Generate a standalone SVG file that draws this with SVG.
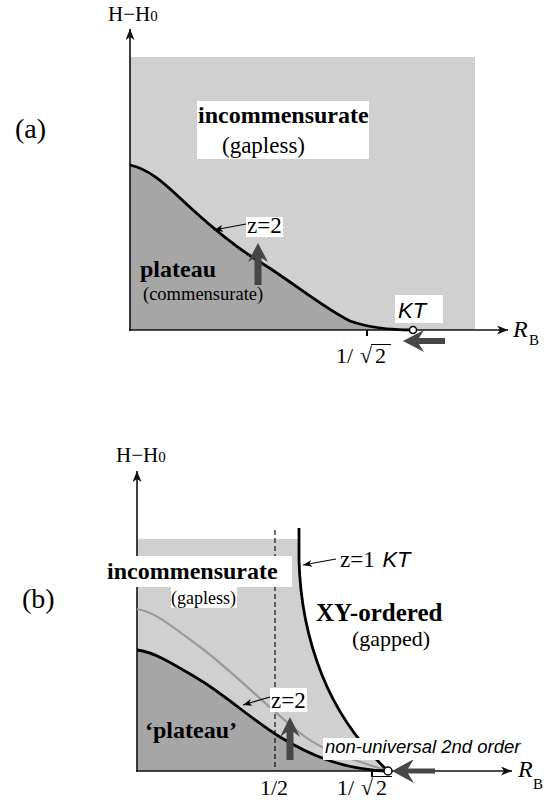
<svg xmlns="http://www.w3.org/2000/svg" width="554" height="806" viewBox="0 0 554 806">
<style>
.serif{font-family:"Liberation Serif","Times New Roman",serif;fill:#000}
.bold{font-weight:bold}
.sans-i{font-family:"Liberation Sans",Arial,sans-serif;font-style:italic;fill:#000}
.light{fill:#d0d0d0}
.dark{fill:#a6a6a6}
.box{fill:#fff}
.axis{stroke:#111;stroke-width:1.6;fill:none}
.curve{stroke:#000;stroke-width:2.8;fill:none}
.thick{fill:#474747}
.lead{stroke:#000;stroke-width:1.2;fill:none}
</style>
<defs>
<marker id="ah" markerUnits="userSpaceOnUse" markerWidth="12" markerHeight="10" refX="11" refY="4.5" orient="auto">
<path d="M0,0 L11,4.5 L0,9 L3,4.5 z" fill="#111"/>
</marker>
<marker id="sh" markerUnits="userSpaceOnUse" markerWidth="10" markerHeight="8" refX="9" refY="3.5" orient="auto">
<path d="M0,0 L9,3.5 L0,7 L2.5,3.5 z" fill="#000"/>
</marker>
</defs>

<!-- Panel (a) -->
<g id="a-regions">
<rect class="light" x="130" y="57" width="345" height="273"/>
<path class="dark" d="M130,165 C148,169 162,181 180,198 C198,215 232,245 260,262 C288,279 325,309 350,321 C370,328 392,330 413,330 L130,330 Z"/>
</g>
<g id="a-label"><text class="serif" x="15" y="138" font-size="28">(a)</text></g>
<g id="a-incommensurate">
<rect class="box" x="197" y="101" width="172" height="58"/>
<text class="serif bold" x="198" y="123" font-size="24">incommensurate</text>
<text class="serif" x="222" y="153" font-size="23">(gapless)</text>
</g>
<g id="a-plateau">
<text class="serif bold" x="140" y="277" font-size="24">plateau</text>
<text class="serif" x="143" y="300" font-size="18.5">(commensurate)</text>
</g>
<g id="a-z2">
<rect class="box" x="246" y="217" width="37" height="20"/>
<text class="serif" x="247" y="233" font-size="23">z=2</text>
</g>
<g id="a-KT">
<rect class="box" x="395" y="295" width="48" height="28"/>
<text class="sans-i" x="398" y="318" font-size="22">KT</text>
</g>
<g id="a-yaxis-label"><text class="serif" x="108" y="21" font-size="21">H−H<tspan font-size="15">0</tspan></text></g>
<g id="a-xaxis-label"><text class="serif" x="513" y="337" font-size="24" font-style="italic">R</text><text class="serif" x="529" y="345" font-size="15">B</text></g>
<g id="a-tick-label">
<text class="serif" x="336" y="363" font-size="22">1/</text>
<text class="serif" x="360" y="363" font-size="22">√</text>
<text class="serif" x="375" y="363" font-size="22">2</text>
<line x1="371" y1="344.5" x2="391" y2="344.5" stroke="#000" stroke-width="1"/>
</g>

<!-- Panel (b) -->
<g id="b-regions">
<path class="light" d="M137,539 L299,539 L299,560 C300,600 308,640 322,675 C334,705 355,740 388,771 L137,771 Z"/>
<path class="dark" d="M137,650 C155,652 175,665 200,680 C225,695 255,722 280,737 C305,752 340,770 388,771 L137,771 Z"/>
</g>
<g id="b-label"><text class="serif" x="22" y="608" font-size="28">(b)</text></g>
<g id="b-yaxis-label"><text class="serif" x="116" y="462" font-size="21">H−H<tspan font-size="15">0</tspan></text></g>
<g id="b-xaxis-label"><text class="serif" x="518" y="777" font-size="24" font-style="italic">R</text><text class="serif" x="533" y="789" font-size="15">B</text></g>

<!-- Connectors -->
<g id="connectors">
<!-- (a) axes -->
<line class="axis" x1="130" y1="331" x2="130" y2="29" marker-end="url(#ah)"/>
<line class="axis" x1="129" y1="330" x2="508" y2="330" marker-end="url(#ah)"/>
<line x1="367" y1="330" x2="367" y2="336" stroke="#000" stroke-width="2"/>
<path class="curve" d="M130,165 C148,169 162,181 180,198 C198,215 232,245 260,262 C288,279 325,309 350,321 C370,328 392,330 413,330"/>
<line class="lead" x1="246" y1="224" x2="214" y2="230" marker-end="url(#sh)"/>
<path class="thick" d="M258,243 L268,262 L261.5,258 L261.5,285 L254.5,285 L254.5,258 L248,262 Z"/>
<path class="thick" d="M403,341 L424,330 L419,338 L445,338 L445,344 L419,344 L424,352 Z"/>
<circle cx="413" cy="330" r="3.5" fill="#fff" stroke="#000" stroke-width="1.5"/>

<!-- (b) -->
<line x1="275" y1="530" x2="275" y2="771" stroke="#000" stroke-width="1.1" stroke-dasharray="5,3"/>
<line class="axis" x1="137" y1="772" x2="137" y2="471" marker-end="url(#ah)" stroke="#333"/>
<line class="axis" x1="136" y1="771" x2="512" y2="771" marker-end="url(#ah)" stroke="#333"/>
<line x1="372" y1="771" x2="372" y2="777" stroke="#000" stroke-width="2"/>
<path d="M137,609 C155,612 170,625 200,647 C230,669 265,705 300,733 C325,753 355,760 388,771" stroke="#9a9a9a" stroke-width="2.2" fill="none"/>
<path class="curve" d="M137,650 C155,652 175,665 200,680 C225,695 255,722 280,737 C305,752 340,770 388,771"/>
<path class="curve" d="M299,528 L299,560 C300,600 308,640 322,675 C334,705 355,740 388,771"/>
<path class="thick" d="M290,717 L300,737 L293.5,732 L293.5,760 L286.5,760 L286.5,732 L280,737 Z"/>
<path class="thick" d="M392,771 L414,759 L408,768.5 L435,768.5 L435,773.5 L408,773.5 L414,783 Z"/>
<circle cx="388" cy="771" r="4" fill="#fff" stroke="#000" stroke-width="1.5"/>
</g>

<g id="b-incommensurate">
<rect class="box" x="100" y="556" width="192" height="31"/>
<text class="serif bold" x="107" y="579" font-size="24">incommensurate</text>
<rect class="box" x="171" y="587" width="66" height="21"/>
<text class="serif" x="171" y="604" font-size="18">(gapless)</text>
</g>
<g id="b-z1">
<line class="lead" x1="336" y1="559" x2="303" y2="565" marker-end="url(#sh)"/>
<text class="serif" x="340" y="567" font-size="23">z=1 <tspan class="sans-i" font-size="22" dx="2">KT</tspan></text>
</g>
<g id="b-xy">
<text class="serif bold" x="316" y="621" font-size="25">XY-ordered</text>
<text class="serif" x="352" y="646" font-size="22">(gapped)</text>
</g>
<g id="b-z2">
<line class="lead" x1="270" y1="697" x2="243" y2="705" marker-end="url(#sh)"/>
<rect class="box" x="270" y="688" width="37" height="24"/>
<text class="serif" x="271" y="708" font-size="23">z=2</text>
</g>
<g id="b-plateau"><text class="serif bold" x="145" y="738" font-size="24">‘plateau’</text></g>
<g id="b-nonuniversal">
<rect class="box" x="323" y="738" width="200" height="22"/>
<text class="sans-i" x="325" y="753" font-size="18.5">non-universal 2nd order</text>
</g>
<g id="b-tick-labels">
<text class="serif" x="260" y="795" font-size="22">1/2</text>
<text class="serif" x="337" y="795" font-size="22">1/</text>
<text class="serif" x="361" y="795" font-size="22">√</text>
<text class="serif" x="376" y="795" font-size="22">2</text>
<line x1="372" y1="776.5" x2="392" y2="776.5" stroke="#000" stroke-width="1"/>
</g>
</svg>
